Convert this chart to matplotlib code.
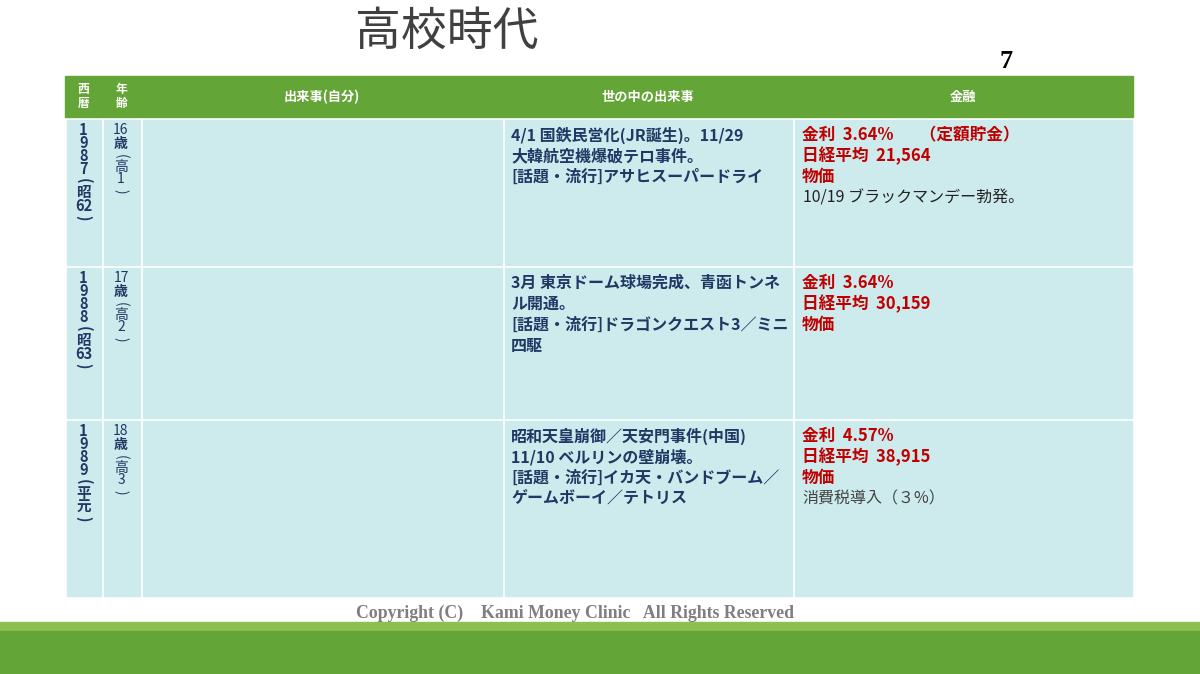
import matplotlib
matplotlib.use("Agg")
import matplotlib.pyplot as plt
from matplotlib.patches import Rectangle

JP = "Noto Sans CJK JP"
title = "高校時代"
page = "7"
headers = ["西\n暦", "年\n齢", "出来事(自分)", "世の中の出来事", "金融"]
years = [["1", "9", "8", "7", "(", "昭", "62", ")"],
         ["1", "9", "8", "8", "(", "昭", "63", ")"],
         ["1", "9", "8", "9", "(", "平", "元", ")"]]
ages = [["16", "歳", "(", "高", "1", ")"],
        ["17", "歳", "(", "高", "2", ")"],
        ["18", "歳", "(", "高", "3", ")"]]
world = [["4/1 国鉄民営化(JR誕生)。11/29", "大韓航空機爆破テロ事件。", "[話題・流行]アサヒスーパードライ"],
         ["3月 東京ドーム球場完成、青函トンネ", "ル開通。", "[話題・流行]ドラゴンクエスト3／ミニ", "四駆"],
         ["昭和天皇崩御／天安門事件(中国)", "11/10 ベルリンの壁崩壊。", "[話題・流行]イカ天・バンドブーム／", "ゲームボーイ／テトリス"]]
rates = ["金利  3.64%       （定額貯金）", "金利  3.64%", "金利  4.57%"]
nikkei = ["日経平均  21,564", "日経平均  30,159", "日経平均  38,915"]
notes = ["10/19 ブラックマンデー勃発。", "", "消費税導入（３%）"]
footer = "Copyright (C)    Kami Money Clinic   All Rights Reserved"

fig = plt.figure(figsize=(12, 6.74), dpi=100)
ax = fig.add_axes([0, 0, 1, 1])
ax.set_xlim(0, 1200); ax.set_ylim(674, 0); ax.axis("off")

cols = [65, 102, 141, 503, 793, 1133]
rows = [(120, 265), (268, 418), (421, 596)]
green = "#63a536"; cell = "#cdebed"; navy = "#1f3864"; red = "#c00000"

ax.add_patch(Rectangle((cols[0], 76), cols[-1]-cols[0], 41, color=green))
for i, h in enumerate(headers):
    ax.text((cols[i]+cols[i+1])/2, 96.5, h, ha="center", va="center", color="white",
            fontsize=9.5 if i > 1 else 8.5, fontweight="bold", family=JP, linespacing=1.0)

def vchar(x, y, ch, fs, bold):
    rot = -90 if ch in "()" else 0
    ax.text(x, y, ch, ha="center", va="center", color=navy, fontsize=fs,
            family=JP, fontweight="bold" if bold else "normal", rotation=rot,
            rotation_mode="anchor")

for r, (y0, y1) in enumerate(rows):
    for i in range(5):
        ax.add_patch(Rectangle((cols[i]+1.5, y0), cols[i+1]-cols[i]-3, y1-y0, color=cell))
    ys = [10, 23, 36, 49, 61, 72, 86, 98]
    for k, ch in enumerate(years[r]):
        vchar(83.5, y0+ys[k], ch, 10.5, True)
    ya = [10, 24, 36, 47, 59, 71]
    for k, ch in enumerate(ages[r]):
        vchar(121, y0+ya[k], ch, 10, ch == "歳")
    for k, line in enumerate(world[r]):
        ax.text(511, y0+15+k*21, line, ha="left", va="center", color=navy,
                fontsize=11.5, fontweight="bold", family=JP)
    for k, line in enumerate([rates[r], nikkei[r], "物価"]):
        ax.text(802, y0+15+k*21, line, ha="left", va="center", color=red,
                fontsize=12, fontweight="bold", family=JP)
    if notes[r]:
        ax.text(803 if r == 0 else 802, y0+78, notes[r], ha="left", va="center",
                color="#222222" if r == 0 else "#444444", fontsize=11.5, family=JP)

ax.text(355, 32, title, ha="left", va="center", fontsize=33, color="#404040", family=JP)
ax.text(1006, 62, page, ha="center", va="center", fontsize=19, fontweight="bold",
        family="Liberation Serif", color="black")
ax.text(575, 613, footer, ha="center", va="center", fontsize=12.8, fontweight="bold",
        family="Liberation Serif", color="#7f7f7f")
ax.add_patch(Rectangle((0, 622), 1200, 9, color="#8cc152"))
ax.add_patch(Rectangle((0, 631), 1200, 43, color=green))
fig.savefig("out.png", dpi=100)
